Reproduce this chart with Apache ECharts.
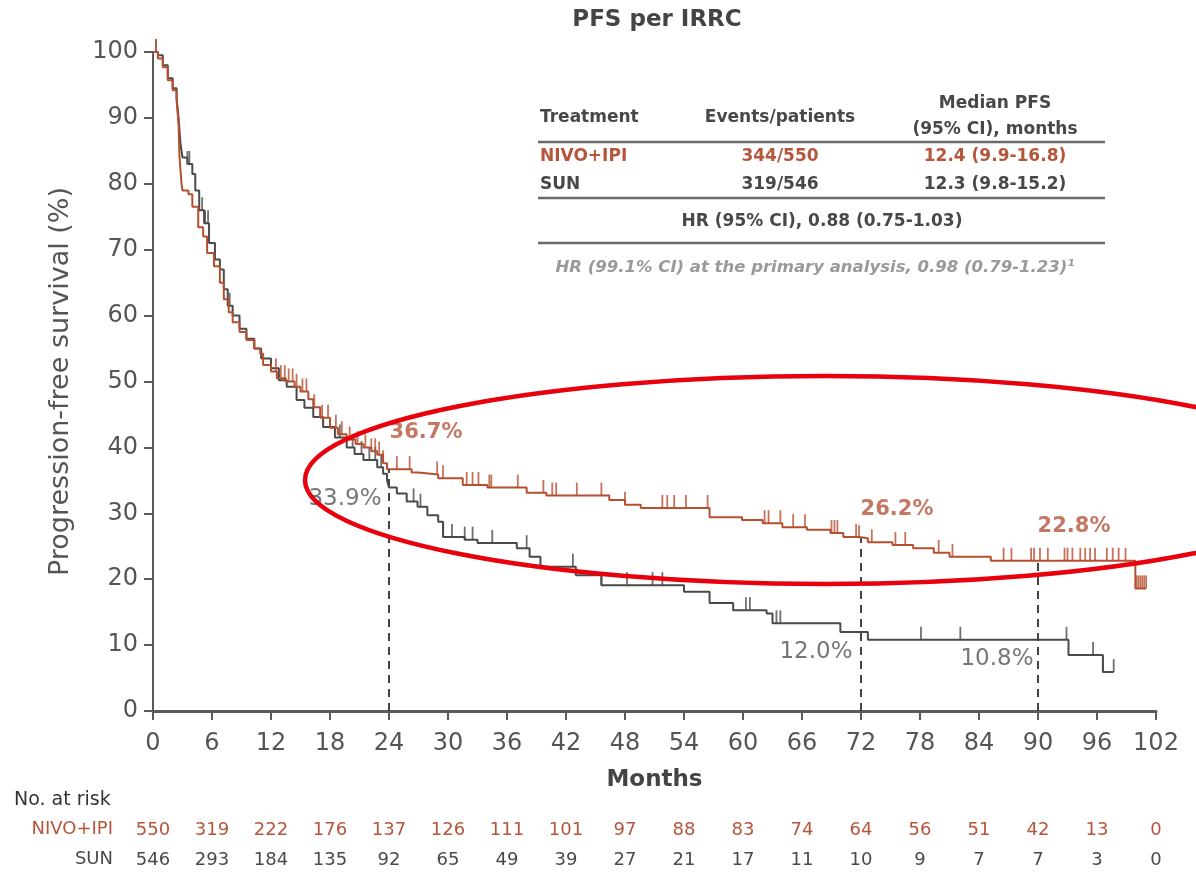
<!DOCTYPE html>
<html>
<head>
<meta charset="utf-8">
<title>PFS per IRRC</title>
<script src="https://cdn.jsdelivr.net/npm/echarts@6/dist/echarts.min.js"></script>
<style>
	html, body { margin: 0; padding: 0; background: #fff; }
	#chart { width: 1196px; height: 872px; }
</style>
</head>
<body>
<div id="chart"></div>
<script>
(function(window)
{
	// Kaplan-Meier steps: [month, survival %], level holds from month until next point
	var nivoCurve = [
		[0, 100], [0.5, 99], [1, 97.7], [1.5, 95.7], [2, 94.2], [2.4, 92.7], [2.6, 89], [2.7, 84],
		[2.9, 80], [3.0, 79], [3.6, 78.4], [4.0, 76.5], [4.6, 73.4], [5.1, 72], [5.5, 69.5],
		[6.2, 67.5], [6.8, 65], [7.2, 62.5], [7.7, 60.5], [8.1, 59], [8.8, 57.5], [9.5, 56.3],
		[10.3, 55], [10.9, 54.2], [11.2, 52.5], [12, 51.5], [12.6, 50.5], [13.5, 50], [14.4, 49.2],
		[15, 48.5], [15.8, 47.3], [16.3, 46.1], [17, 44.5], [18, 43], [18.8, 42], [19.7, 41.2],
		[20.6, 40.5], [21.4, 40], [22.2, 39.4], [22.8, 38.9], [23.4, 37.6], [23.8, 36.7],
		[26.3, 36.2], [27.0, 35.9], [29.0, 35.3], [31.5, 34.3], [34.0, 33.9], [38.0, 33.1],
		[40.0, 32.7], [46.4, 32.0], [48.0, 31.3], [49.6, 30.8], [56.6, 29.4], [59.9, 29.0],
		[62.0, 28.5], [64.0, 27.9], [66.5, 27.5], [68.9, 27.0], [70.2, 26.4], [71.8, 26.2],
		[72.7, 25.6], [75.2, 25.2], [77.3, 24.7], [79.4, 24.0], [81.0, 23.4], [85.2, 22.8],
		[99.9, 18.6], [101, 18.6]
	];

	var sunCurve = [
		[0, 100], [0.5, 99.5], [1, 98], [1.5, 96], [2, 94.5], [2.4, 93], [2.6, 90], [2.8, 86],
		[3.0, 84], [3.5, 83], [4.0, 81.5], [4.3, 79], [4.7, 76], [5.2, 74], [5.7, 71], [6.3, 68.5],
		[6.8, 67], [7.2, 64], [7.6, 61.5], [8.1, 60], [8.8, 58], [9.5, 56.5], [10.3, 55], [11, 53.5],
		[12, 52], [12.8, 50.2], [13.6, 49.2], [14.6, 47.2], [15.4, 46], [16.3, 44.6], [17.3, 43.1],
		[18.5, 41.5], [19.7, 40], [20.5, 39], [21.4, 38.1], [22.8, 37], [23.4, 36], [23.8, 35],
		[24, 33.9], [24.8, 33], [25.8, 31.8], [26.9, 31], [27.9, 29.7], [29, 28.7], [29.5, 26.4],
		[31.7, 26], [33, 25.5], [37, 24.7], [38.3, 23.4], [39.4, 21.9], [43, 20.6], [45.6, 19.1],
		[54, 18.1], [56.6, 16.4], [59, 15.3], [62.4, 14.8], [63, 13.3], [69.9, 12.0], [72.7, 10.8],
		[93.1, 8.5], [96.6, 5.9], [97.7, 5.9]
	];

	// censored observations (months)
	var nivoCensor = [
		0.3, 12.5, 13, 13.4, 13.8, 14.2, 14.6, 15.2, 15.6, 16.4, 17.2, 17.8, 18.6, 19.2, 20, 20.8,
		21.6, 22.2, 22.6, 23, 23.4, 24.8, 26.1, 28.9, 29.5, 31.9, 32.5, 33.1, 34.2, 34.4, 37.1,
		39.7, 40.6, 41, 43.1, 45.6, 48, 51.8, 52.3, 53, 54.2, 56.4, 62.2, 62.6, 63.8, 65.1, 66.3,
		69, 69.3, 69.6, 71.5, 71.8, 73.1, 75.5, 76.5, 79.9, 81.3, 86.5, 87.3, 89.3, 89.6, 90.2, 91,
		92.7, 93, 93.5, 94.3, 94.8, 95.3, 95.8, 97, 97.6, 98.2, 98.9, 100, 100.2, 100.4, 100.6,
		100.8, 101
	];

	var sunCensor = [
		0.3, 3.5, 3.7, 5, 5.3, 5.6, 7.8, 19, 20.3, 21.2, 22, 22.6, 23.2, 26.5, 27.2, 29.5, 30.4,
		31.7, 32.5, 34.5, 38, 42.7, 45.6, 48.2, 50.8, 51.8, 60.3, 60.7, 63.4, 63.8, 78.1, 82.1,
		92.9, 95.6, 96.6, 97.7
	];

	// landmark estimates
	var landmarkMonths = [24, 72, 90];
	var nivoLandmark = [36.7, 26.2, 22.8];
	var sunLandmark = [33.9, 12.0, 10.8];

	// number at risk, one per x tick (0, 6, ... 102)
	var riskMonths = [0, 6, 12, 18, 24, 30, 36, 42, 48, 54, 60, 66, 72, 78, 84, 90, 96, 102];
	var nivoRisk = [550, 319, 222, 176, 137, 126, 111, 101, 97, 88, 83, 74, 64, 56, 51, 42, 13, 0];
	var sunRisk = [546, 293, 184, 135, 92, 65, 49, 39, 27, 21, 17, 11, 10, 9, 7, 7, 3, 0];

	var NIVO_LINE = "#b64f30";
	var NIVO_TEXT = "#b5553b";
	var SUN_LINE = "#4a4a4a";
	var SUN_TEXT = "#4a4a4a";
	var AXIS = "#5a5a5a";
	var FONT = "'DejaVu Sans', 'Open Sans', sans-serif";

	/**
	 * survival value of a step curve at the given month
	 */
	function survAt(curve, t)
	{
		var v = curve[0][1];
		for(var i=0; i<curve.length; i++)
		{
			if(curve[i][0] <= t)
				v = curve[i][1];
		}
		return v;
	}

	function censorPoints(curve, months)
	{
		var re = [];
		for(var i=0; i<months.length; i++)
			re.push([months[i], survAt(curve, months[i])]);
		return re;
	}

	function riskAxis(values, color, offset)
	{
		return {
			type: "value", min: 0, max: 102, interval: 6, position: "bottom", offset: offset,
			axisLine: { show: false }, axisTick: { show: false }, splitLine: { show: false },
			axisLabel: {
				margin: 0, color: color, fontSize: 18, fontFamily: FONT,
				showMinLabel: true, showMaxLabel: true,
				formatter: function(v) { return String(values[riskMonths.indexOf(v)]); }
			}
		};
	}

	// dashed landmark drop lines
	var landmarkLines = [];
	for(var i=0; i<landmarkMonths.length; i++)
		landmarkLines.push([{ coord: [landmarkMonths[i], 0] }, { coord: [landmarkMonths[i], nivoLandmark[i]] }]);

	// percentage labels next to landmarks; offsets in px
	var nivoOffsets = [[37, -37], [36, -29], [36, -34]];
	var sunOffsets = [[-44, 11], [-45, 20], [-41, 19]];
	var landmarkLabels = [];
	for(var i=0; i<landmarkMonths.length; i++)
	{
		landmarkLabels.push({
			value: [landmarkMonths[i], nivoLandmark[i]],
			label: { offset: nivoOffsets[i], color: NIVO_TEXT, fontWeight: "bold", fontSize: 21,
				formatter: nivoLandmark[i].toFixed(1) + "%" }
		});
		landmarkLabels.push({
			value: [landmarkMonths[i], sunLandmark[i]],
			label: { offset: sunOffsets[i], color: "#555", fontSize: 23,
				formatter: sunLandmark[i].toFixed(1) + "%" }
		});
	}

	function txt(text, x, y, opts)
	{
		opts = opts || {};
		return {
			type: "text", z: 50,
			style: {
				text: text, x: x, y: y,
				font: (opts.font || "bold 17px " + FONT),
				fill: (opts.fill || "#484848"),
				textAlign: (opts.align || "center"),
				textVerticalAlign: "middle"
			}
		};
	}

	function hline(y, x1, x2)
	{
		return {
			type: "line", z: 50,
			shape: { x1: x1, y1: y, x2: x2, y2: y },
			style: { stroke: "#6a6a6a", lineWidth: 2.5 }
		};
	}

	var graphics = [
		txt("PFS per IRRC", 657, 20, { font: "bold 23px " + FONT, fill: "#444" }),

		txt("Treatment", 540, 118, { align: "left" }),
		txt("Events/patients", 780, 118),
		txt("Median PFS", 995, 104),
		txt("(95% CI), months", 995, 130),
		hline(142, 538, 1105),
		txt("NIVO+IPI", 540, 157, { align: "left", fill: NIVO_TEXT }),
		txt("344/550", 780, 157, { fill: NIVO_TEXT }),
		txt("12.4 (9.9-16.8)", 995, 157, { fill: NIVO_TEXT }),
		txt("SUN", 540, 185, { align: "left" }),
		txt("319/546", 780, 185),
		txt("12.3 (9.8-15.2)", 995, 185),
		hline(198, 538, 1105),
		txt("HR (95% CI), 0.88 (0.75-1.03)", 822, 222),
		hline(243, 538, 1105),
		txt("HR (99.1% CI) at the primary analysis, 0.98 (0.79-1.23)\u00b9", 815, 268,
			{ font: "italic bold 16.5px " + FONT, fill: "#9a9a9a" }),

		txt("No. at risk", 14, 800, { align: "left", font: "19px " + FONT, fill: "#333" }),
		txt("NIVO+IPI", 113, 829, { align: "right", font: "18px " + FONT, fill: NIVO_TEXT }),
		txt("SUN", 113, 859, { align: "right", font: "18px " + FONT, fill: SUN_TEXT }),

		{
			type: "ellipse", z: 60,
			shape: { cx: 825, cy: 480, rx: 520, ry: 104 },
			style: { fill: "none", stroke: "#e8000d", lineWidth: 4.5 }
		}
	];

	var chart = echarts.init(document.getElementById("chart"), null, { renderer: "canvas" });

	chart.setOption({
		animation: false,
		backgroundColor: "#fff",
		textStyle: { fontFamily: FONT },
		grid: { left: 153, right: 40, top: 52, bottom: 161 },
		xAxis: [
			{
				type: "value", min: 0, max: 102, interval: 6,
				name: "Months", nameLocation: "middle", nameGap: 58,
				nameTextStyle: { fontSize: 23, fontWeight: "bold", color: "#444", fontFamily: FONT },
				axisLine: { lineStyle: { color: AXIS, width: 3 } },
				axisTick: { length: 9, lineStyle: { color: AXIS, width: 2 } },
				axisLabel: { margin: 21, fontSize: 24, color: "#555", fontFamily: FONT, showMaxLabel: true },
				splitLine: { show: false }
			},
			riskAxis(nivoRisk, NIVO_TEXT, 110),
			riskAxis(sunRisk, SUN_TEXT, 140)
		],
		yAxis: {
			type: "value", min: 0, max: 100, interval: 10,
			name: "Progression-free survival (%)", nameLocation: "middle", nameGap: 79,
			nameTextStyle: { fontSize: 27, color: "#555", fontFamily: FONT },
			axisLine: { show: true, lineStyle: { color: AXIS, width: 2 } },
			axisTick: { show: true, length: 9, lineStyle: { color: AXIS, width: 2 } },
			axisLabel: { margin: 15, fontSize: 24, color: "#555", fontFamily: FONT },
			splitLine: { show: false }
		},
		series: [
			{
				name: "SUN", type: "line", step: "end", showSymbol: false, z: 3,
				data: sunCurve,
				lineStyle: { color: SUN_LINE, width: 2 }
			},
			{
				name: "NIVO+IPI", type: "line", step: "end", showSymbol: false, z: 4,
				data: nivoCurve,
				lineStyle: { color: NIVO_LINE, width: 2 }
			},
			{
				name: "SUN censored", type: "scatter", z: 3,
				data: censorPoints(sunCurve, sunCensor),
				symbol: "rect", symbolSize: [1.8, 13], symbolOffset: [0, -6.5],
				itemStyle: { color: SUN_LINE }
			},
			{
				name: "NIVO+IPI censored", type: "scatter", z: 4,
				data: censorPoints(nivoCurve, nivoCensor),
				symbol: "rect", symbolSize: [1.8, 13], symbolOffset: [0, -6.5],
				itemStyle: { color: NIVO_LINE }
			},
			{
				name: "landmarks", type: "line", data: [], z: 2,
				markLine: {
					silent: true, symbol: "none",
					label: { show: false },
					lineStyle: { color: "#444", type: [8, 6], width: 2 },
					data: landmarkLines
				}
			},
			{
				name: "landmark labels", type: "scatter", symbolSize: 0, z: 10,
				data: landmarkLabels,
				label: { show: true, position: "inside", fontFamily: FONT }
			}
		],
		graphic: graphics
	});
})
(window);
</script>
</body>
</html>
